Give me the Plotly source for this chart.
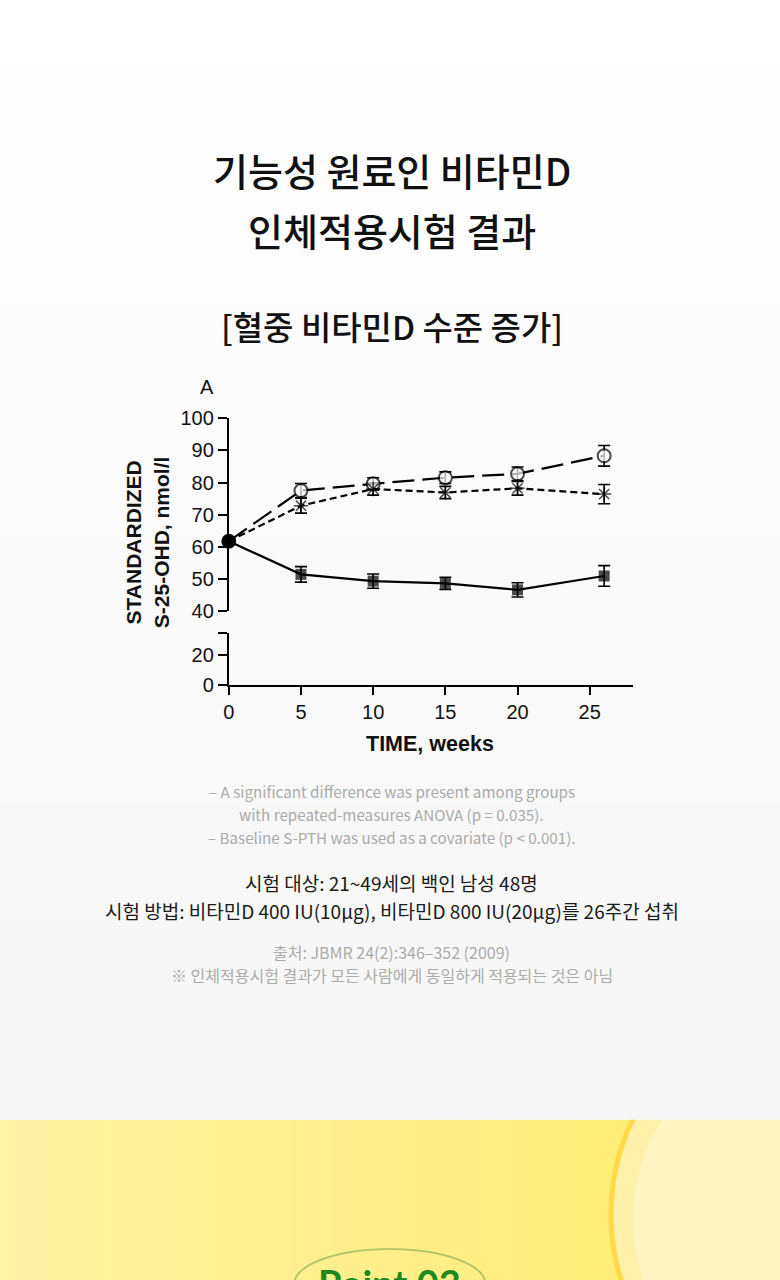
import plotly.graph_objects as go

W, H = 780, 1280

# ---------------- data ----------------
weeks = [0, 5, 10, 15, 20, 26]
d800_mean = [61.8, 77.5, 79.6, 81.5, 82.7, 88.3]
d800_err = [0, 2.2, 1.9, 1.8, 2.1, 3.2]
d400_mean = [61.8, 72.8, 78.0, 76.9, 78.2, 76.4]
d400_err = [0, 2.3, 1.9, 1.9, 2.1, 3.0]
placebo_mean = [61.8, 51.5, 49.4, 48.7, 46.7, 51.0]
placebo_err = [0, 2.4, 2.2, 1.9, 2.2, 3.2]

x_ticks = [0, 5, 10, 15, 20, 25]
y_upper_ticks = [40, 50, 60, 70, 80, 90, 100]
y_lower_ticks = [0, 20]

title_lines = ["기능성 원료인 비타민D", "인체적용시험 결과"]
subtitle = "[혈중 비타민D 수준 증가]"
notes = ["– A significant difference was present among groups",
         "with repeated-measures ANOVA (p = 0.035).",
         "– Baseline S-PTH was used as a covariate (p < 0.001)."]
info = ["시험 대상: 21~49세의 백인 남성 48명",
        "시험 방법: 비타민D 400 IU(10µg), 비타민D 800 IU(20µg)를 26주간 섭취"]
source = ["출처: JBMR 24(2):346–352 (2009)",
          "※ 인체적용시험 결과가 모든 사람에게 동일하게 적용되는 것은 아님"]

# the page is shown with a small offset / scale; compensate layout positions
OFF, SC = 6.0, 0.9875


def px(x):
    return ((x - OFF) / SC) / W


def py(y):
    return 1 - ((y - OFF) / SC) / H


fig = go.Figure()

common_err = dict(type="data", thickness=1.6, width=6, color="black")

# error bars first (so markers sit on top of them)
for mean, err in [(d800_mean, d800_err), (d400_mean, d400_err), (placebo_mean, placebo_err)]:
    fig.add_trace(go.Scatter(
        x=weeks, y=mean, mode="markers",
        marker=dict(size=1, color="rgba(0,0,0,0)"),
        error_y=dict(array=err, **common_err),
        cliponaxis=False, showlegend=False, hoverinfo="skip"))

# 800 IU : open circles, long dash
fig.add_trace(go.Scatter(
    x=weeks, y=d800_mean, mode="lines+markers", name="800 IU",
    line=dict(color="black", width=2.2, dash="22px,8px"),
    marker=dict(symbol=["circle"] * len(weeks),
                size=[13] + [13] * 5,
                color=["black"] + ["white"] * 5,
                line=dict(color="black", width=2)),
    cliponaxis=False, showlegend=False))

# 400 IU : asterisks, short dash
fig.add_trace(go.Scatter(
    x=weeks, y=d400_mean, mode="lines+markers", name="400 IU",
    line=dict(color="black", width=2.2, dash="7px,4px"),
    marker=dict(symbol=["circle"] + ["asterisk-open"] * 5,
                size=[13] + [12] * 5,
                color="black",
                line=dict(color="black", width=1.5)),
    cliponaxis=False, showlegend=False))

# placebo : filled squares, solid
fig.add_trace(go.Scatter(
    x=weeks, y=placebo_mean, mode="lines+markers", name="Placebo",
    line=dict(color="black", width=2.2),
    marker=dict(symbol=["circle"] + ["square"] * 5,
                size=[13] + [11] * 5,
                color="black",
                line=dict(color="black", width=0)),
    cliponaxis=False, showlegend=False))

# dummy trace so the lower (broken) axis is drawn
fig.add_trace(go.Scatter(x=[None], y=[None], xaxis="x", yaxis="y2",
                         showlegend=False, hoverinfo="skip"))

tick_font = dict(family="Liberation Sans, Arial, sans-serif", size=20, color="#111")

x0_px, x1_px = 227.7, 630
fig.update_layout(
    width=W, height=H,
    margin=dict(l=0, r=0, t=0, b=0),
    paper_bgcolor="white",
    plot_bgcolor="rgba(0,0,0,0)",
    xaxis=dict(domain=[px(x0_px), px(x1_px)], range=[0, 28],
               tickvals=x_ticks, ticks="outside", ticklen=8, tickwidth=2,
               tickcolor="black", showline=True, linewidth=2, linecolor="black",
               showgrid=False, zeroline=False, anchor="y2", tickfont=tick_font),
    yaxis=dict(domain=[py(609.3), py(415)], range=[40, 100],
               tickvals=y_upper_ticks, ticks="outside", ticklen=9, tickwidth=2,
               tickcolor="black", showline=True, linewidth=2, linecolor="black",
               showgrid=False, zeroline=False, anchor="x", tickfont=tick_font),
    yaxis2=dict(domain=[py(683.3), py(630.7)], range=[0, 34.4],
                tickvals=y_lower_ticks + [34.4], ticktext=["0", "20", ""],
                ticks="outside", ticklen=9, tickwidth=2,
                tickcolor="black", showline=True, linewidth=2, linecolor="black",
                showgrid=False, zeroline=False, anchor="x", tickfont=tick_font),
)

# ---------------- background shapes ----------------
shapes = []
# yellow band (horizontal gradient)
nb = 41
for i in range(nb):
    t = i / (nb - 1)
    if t < 0.77:
        u = t / 0.77
        g = 243 + (237 - 243) * u
        b = 165 + (120 - 165) * u
    else:
        u = (t - 0.77) / 0.23
        g = 237 + (230 - 237) * u
        b = 120 + (50 - 120) * u
    shapes.append(dict(type="rect", xref="paper", yref="paper", layer="below",
                       x0=px(i * 20 - 10), x1=px(i * 20 + 11), y0=py(1300), y1=py(1120),
                       line=dict(width=0), fillcolor=f"rgb(255,{int(g)},{int(b)})"))
# lemon slice
shapes.append(dict(type="circle", xref="paper", yref="paper", layer="below",
                   x0=px(608), x1=px(880), y0=py(1390), y1=py(1040),
                   line=dict(color="rgb(255,218,70)", width=5),
                   fillcolor="rgb(255,240,170)"))
shapes.append(dict(type="circle", xref="paper", yref="paper", layer="below",
                   x0=px(630), x1=px(860), y0=py(1370), y1=py(1070),
                   line=dict(width=0),
                   fillcolor="rgba(255,246,200,0.85)"))
# light grey page gradient (top white -> bottom grey)
ng = 57
for i in range(ng):
    t = i / (ng - 1)
    c = int(round(255 - 9 * t))
    y_top = i * 20 - 20
    y_bot = min(i * 20 + 1, 1120)
    shapes.append(dict(type="rect", xref="paper", yref="paper", layer="below",
                       x0=px(-10), x1=px(800), y0=py(y_bot), y1=py(y_top),
                       line=dict(width=0), fillcolor=f"rgb({c},{c},{c})"))
# ellipse around Point 03
shapes.append(dict(type="circle", xref="paper", yref="paper", layer="below",
                   x0=px(293), x1=px(483), y0=py(1320), y1=py(1250),
                   line=dict(color="rgba(120,165,80,0.55)", width=2),
                   fillcolor="rgba(0,0,0,0)"))
fig.update_layout(shapes=shapes)

# ---------------- text ----------------
kr = "Noto Sans CJK KR, Noto Sans, sans-serif"
ann = []


def text(s, x, y, size, color="#111", family=kr, weight="normal", angle=0, xanchor="center",
         yanchor="middle"):
    ann.append(dict(text=s, x=px(x), y=py(y), xref="paper", yref="paper",
                    showarrow=False, xanchor=xanchor, yanchor=yanchor, textangle=angle,
                    font=dict(family=family, size=size, color=color, weight=weight)))


text(title_lines[0], 390, 165, 38, weight=500)
text(title_lines[1], 390, 226, 38, weight=500)
text(subtitle, 390, 323, 33, weight=500)

for i, s in enumerate(notes):
    text(s, 390, 790 + i * 23, 15.2, color="#ababab")
text(info[0], 390, 882, 19, color="#1a1a1a")
text(info[1], 390, 910, 19, color="#1a1a1a")
text(source[0], 390, 951, 16, color="#ababab")
text(source[1], 390, 975, 16, color="#ababab")

arial = "Liberation Sans, Arial, sans-serif"
text("A", 206, 384, 20, family=arial)
text("TIME, weeks", 428, 742, 21.5, family=arial, weight="bold")
text("STANDARDIZED<br>S-25-OHD, nmol/l", 147, 540, 21, family=arial, weight="bold", angle=-90)

text("Point 03", 388, 1259, 38, color="#1c8a1c", family="Lato, sans-serif", weight="bold",
     yanchor="top")

fig.update_layout(annotations=ann)

fig.write_html("out.html")
